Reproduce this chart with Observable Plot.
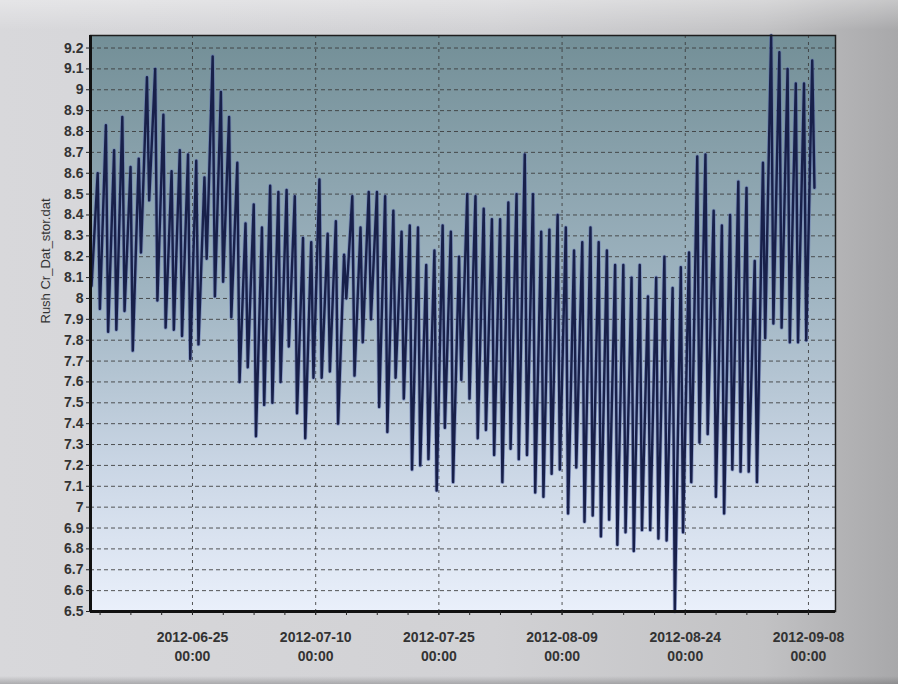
<!DOCTYPE html>
<html>
<head>
<meta charset="utf-8">
<script src="https://cdn.jsdelivr.net/npm/d3@7"></script>
<script src="https://cdn.jsdelivr.net/npm/@observablehq/plot@0.6"></script>
<style>
  html, body { margin: 0; padding: 0; }
  body {
    width: 898px; height: 684px; overflow: hidden;
    background:
      linear-gradient(to top, rgba(90,90,92,0.35) 0px, rgba(90,90,92,0) 8px),
      linear-gradient(to bottom, rgba(255,255,255,0.35) 0px, rgba(255,255,255,0) 30px),
      linear-gradient(to right, #d8d8db 0%, #d1d1d4 55%, #c2c2c4 85%, #a8a8aa 100%);
    font-family: "Liberation Sans", Arial, sans-serif;
  }
  #chart svg { display: block; background: transparent; }
</style>
</head>
<body>
<div id="chart"></div>
<script>
// Daily dissolved-oxygen swing for Rush Creek, 13 Jun – 8 Sep 2012:
// one afternoon high and one evening low per day.
const firstDay = "2012-06-13";
const lastDay = "2012-09-08";

const dailyMax = [
  8.60, 8.83, 8.71, 8.87, 8.63, 8.67, 9.06,
  9.10, 8.88, 8.61, 8.71, 8.69, 8.66, 8.58,
  9.16, 8.99, 8.87, 8.65, 8.36, 8.45, 8.34,
  8.54, 8.51, 8.52, 8.49, 8.29, 8.27, 8.57,
  8.31, 8.37, 8.21, 8.49, 8.34, 8.51, 8.51,
  8.49, 8.42, 8.32, 8.35, 8.34, 8.16, 8.23,
  8.35, 8.32, 8.20, 8.50, 8.49, 8.43, 8.38,
  8.38, 8.46, 8.50, 8.69, 8.50, 8.32, 8.33,
  8.40, 8.34, 8.23, 8.27, 8.34, 8.27, 8.23,
  8.16, 8.16, 8.10, 8.16, 8.01, 8.10, 8.20,
  8.05, 8.15, 8.22, 8.68, 8.69, 8.42, 8.35,
  8.40, 8.56, 8.53, 8.18, 8.65, 9.26, 9.18,
  9.10, 9.03, 9.03, 9.14
];

const dailyMin = [
  7.95, 7.84, 7.85, 7.94, 7.75, 8.22, 8.47,
  7.99, 7.86, 7.85, 7.82, 7.71, 7.78, 8.19,
  8.01, 8.08, 7.91, 7.60, 7.67, 7.34, 7.49,
  7.50, 7.60, 7.77, 7.45, 7.33, 7.62, 7.62,
  7.65, 7.40, 8.00, 7.63, 7.79, 7.90, 7.48,
  7.36, 7.62, 7.52, 7.18, 7.20, 7.23, 7.08,
  7.38, 7.12, 7.61, 7.52, 7.33, 7.37, 7.25,
  7.12, 7.28, 7.23, 7.25, 7.07, 7.05, 7.16,
  7.18, 6.97, 7.19, 6.93, 6.96, 6.86, 6.94,
  6.82, 6.88, 6.79, 6.89, 6.89, 6.85, 6.84,
  6.50, 6.88, 7.12, 7.31, 7.35, 7.05, 6.97,
  7.18, 7.17, 7.17, 7.12, 7.81, 7.88, 7.86,
  7.79, 7.79, 7.80, 8.53
];

// first logged reading, on the evening before the first full day
const firstReading = { time: "2012-06-12T17:00Z", value: 8.06 };

const highTime = "T11:00Z";
const lowTime = "T17:30Z";

const yTicks = [6.5, 6.6, 6.7, 6.8, 6.9, 7, 7.1, 7.2, 7.3, 7.4, 7.5, 7.6, 7.7, 7.8,
                7.9, 8, 8.1, 8.2, 8.3, 8.4, 8.5, 8.6, 8.7, 8.8, 8.9, 9, 9.1, 9.2];
const xTickDates = ["2012-06-25", "2012-07-10", "2012-07-25", "2012-08-09", "2012-08-24", "2012-09-08"];

const yLabel = "Rush Cr_Dat_stor.dat";
const xDomain = [new Date("2012-06-12T14:00Z"), new Date("2012-09-11T07:00Z")];
const yDomain = [6.5, 9.26];

// build the reading sequence: high then low for each day
const days = d3.utcDay.range(new Date(firstDay + "T00:00Z"), d3.utcDay.offset(new Date(lastDay + "T00:00Z"), 1));
const iso = d3.utcFormat("%Y-%m-%d");
const readings = [{ time: new Date(firstReading.time), value: firstReading.value }];
days.forEach((d, i) => {
  readings.push({ time: new Date(iso(d) + highTime), value: dailyMax[i] });
  readings.push({ time: new Date(iso(d) + lowTime), value: dailyMin[i] });
});

const majorTicks = xTickDates.map(s => new Date(s + "T00:00Z"));
// four minor divisions between labelled dates
const minorTicks = [];
const step = majorTicks[1] - majorTicks[0];
for (let t = +majorTicks[0] - step; t <= +xDomain[1]; t += step / 4) {
  if (t >= +xDomain[0]) minorTicks.push(new Date(t));
}

// gradient used to shade the plotting area
const gradientDefs = () => {
  const ns = "http://www.w3.org/2000/svg";
  const defs = document.createElementNS(ns, "defs");
  const grad = document.createElementNS(ns, "linearGradient");
  grad.setAttribute("id", "plotBg");
  grad.setAttribute("x1", "0"); grad.setAttribute("y1", "0");
  grad.setAttribute("x2", "0"); grad.setAttribute("y2", "1");
  [["0", "#738f97"], ["0.45", "#a0b5c2"], ["0.75", "#cad6e5"], ["1", "#eaf0fb"]].forEach(([o, c]) => {
    const s = document.createElementNS(ns, "stop");
    s.setAttribute("offset", o);
    s.setAttribute("stop-color", c);
    grad.appendChild(s);
  });
  defs.appendChild(grad);
  return defs;
};

const chart = Plot.plot({
  width: 898,
  height: 684,
  marginLeft: 90,
  marginRight: 63,
  marginTop: 35,
  marginBottom: 73,
  style: { fontFamily: "'Liberation Sans', Arial, sans-serif", color: "#333", background: "transparent" },
  x: { type: "utc", domain: xDomain },
  y: { domain: yDomain },
  marks: [
    gradientDefs,
    Plot.frame({ fill: "url(#plotBg)", stroke: null }),
    Plot.gridY(yTicks, { stroke: "#3a3a3a", strokeOpacity: 0.85, strokeDasharray: "4,3", strokeWidth: 1 }),
    Plot.gridX(majorTicks, { stroke: "#3a3a3a", strokeOpacity: 0.85, strokeDasharray: "3,4", strokeWidth: 1 }),
    Plot.line(readings, { x: "time", y: "value", stroke: "#5b6db4", strokeWidth: 4, strokeOpacity: 0.5 }),
    Plot.line(readings, { x: "time", y: "value", stroke: "#18204a", strokeWidth: 2.4 }),
    Plot.frame({ stroke: "#1e1e1e", strokeWidth: 1.5 }),
    Plot.ruleX([xDomain[0]], { stroke: "#111", strokeWidth: 3 }),
    Plot.ruleY([yDomain[0]], { stroke: "#111", strokeWidth: 3 }),
    Plot.axisY(yTicks, {
      tickSize: 4, tickPadding: 3, fontSize: 14, fontWeight: "bold",
      tickFormat: d => String(d), label: null, stroke: "#222"
    }),
    Plot.axisX(minorTicks, { tickSize: 4, tickFormat: () => "", label: null, stroke: "#222" }),
    Plot.axisX(majorTicks, {
      tickSize: 4, tickPadding: 13, fontSize: 14, fontWeight: "bold", lineHeight: 1.36,
      tickFormat: d3.utcFormat("%Y-%m-%d\n%H:%M"), label: null, stroke: "#222"
    }),
    Plot.text([yLabel], { frameAnchor: "left", rotate: -90, dx: -45, fontSize: 13, fill: "#333" })
  ]
});

document.getElementById("chart").appendChild(chart);
</script>
</body>
</html>
